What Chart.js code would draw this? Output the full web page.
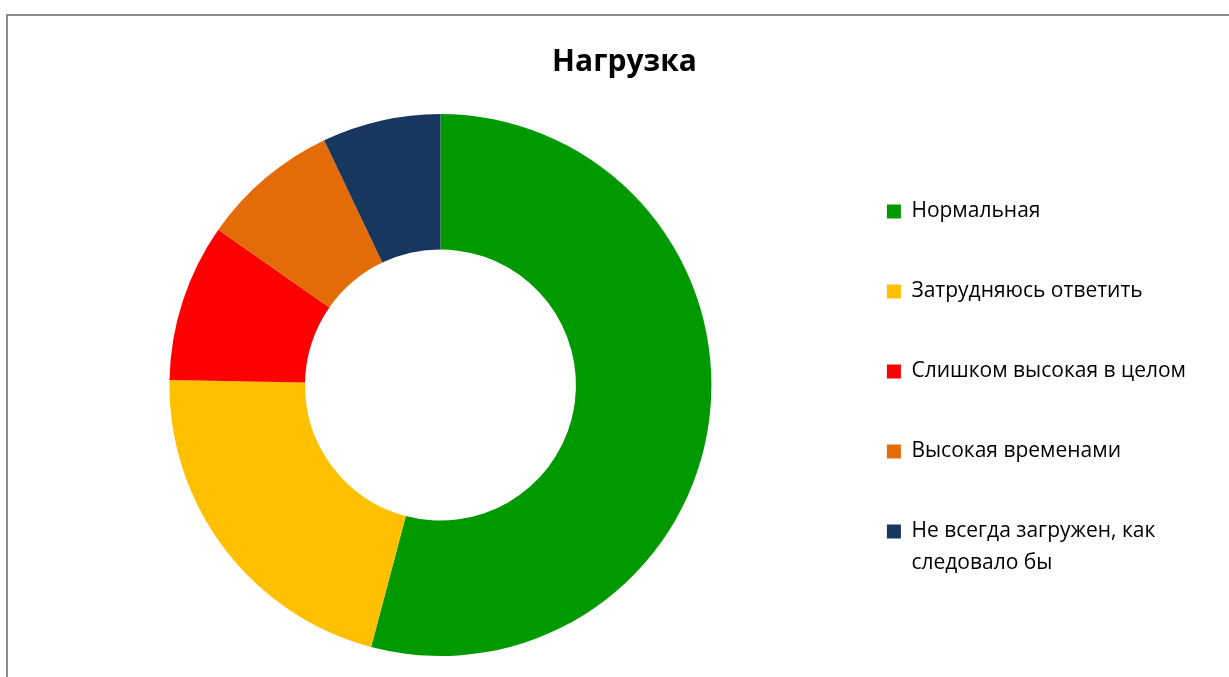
<!DOCTYPE html>
<html>
<head>
<meta charset="utf-8">
<script src="https://cdn.jsdelivr.net/npm/chart.js@4"></script>
<style>
  html, body { margin: 0; padding: 0; background: #fff; overflow: hidden; }
  #frame {
    position: absolute; left: 6px; top: 14px;
    width: 1240px; height: 700px;
    border-top: 2px solid #8c8c8c; border-left: 2px solid #8c8c8c;
  }
  #wrap { position: absolute; left: 0; top: 0; width: 1234px; height: 680px; }
</style>
</head>
<body>
<div id="frame"><div id="wrap"><canvas id="loadChart"></canvas></div></div>
<script>
// data
const categories = [
  'Нормальная',
  'Затрудняюсь ответить',
  'Слишком высокая в целом',
  'Высокая временами',
  ['Не всегда загружен, как', 'следовало бы']
];
const counts = [46, 18, 8, 7, 6];
const sliceColors = ['#009900', '#FFC000', '#FF0000', '#E36C09', '#17375E'];

const loadCanvas = document.getElementById('loadChart');

new Chart(loadCanvas, {
  type: 'doughnut',
  data: {
    labels: categories,
    datasets: [{
      data: counts,
      backgroundColor: sliceColors,
      borderWidth: 0
    }]
  },
  options: {
    responsive: true,
    maintainAspectRatio: false,
    animation: false,
    cutout: '50%',
    layout: {
      padding: { left: 45, right: 46, top: 0, bottom: 40 }
    },
    plugins: {
      title: {
        display: true,
        text: 'Нагрузка',
        color: '#000',
        font: { family: 'Open Sans', size: 30, weight: 'bold' },
        padding: { top: 28, bottom: 34 }
      },
      legend: {
        position: 'right',
        align: 'start',
        title: {
          display: true,
          text: ' ',
          font: { size: 10 },
          padding: 57
        },
        labels: {
          color: '#000',
          font: { family: 'Open Sans', size: 21, lineHeight: 1.52 },
          boxWidth: 14,
          boxHeight: 14,
          padding: 59
        }
      },
      tooltip: { enabled: false }
    }
  }
});
</script>
</body>
</html>
